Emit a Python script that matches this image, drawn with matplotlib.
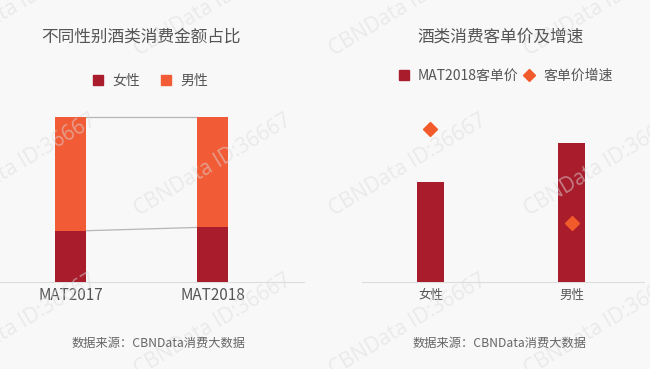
import matplotlib
matplotlib.use("Agg")
import matplotlib.pyplot as plt
from matplotlib.lines import Line2D

plt.rcParams['font.family'] = ['Noto Sans CJK SC', 'DejaVu Sans']

# ---- data ----
periods = ["MAT2017", "MAT2018"]
female_share = [0.31, 0.33]
male_share = [0.69, 0.67]

genders = ["女性", "男性"]
avg_price_2018 = [180, 250]
price_growth = [0.31, 0.12]

title_left = "不同性别酒类消费金额占比"
title_right = "酒类消费客单价及增速"
source_text = "数据来源：CBNData消费大数据"
watermark = "CBNData ID:36667"

# ---- style ----
BG = "#f8f8f8"
C_F = "#a91c2c"
C_M = "#f15b36"
C_D = "#f15a2b"
TXT = "#555555"

W, H = 650, 369
fig = plt.figure(figsize=(W / 100, H / 100), dpi=100, facecolor=BG)

def fx(px):
    return px / W

def fy(py):
    return 1 - py / H

# watermarks
for cy in (5, 165, 325):
    for cx in (18, 213, 408, 603):
        fig.text(fx(cx), fy(cy), watermark, rotation=31, ha="center", va="center",
                 fontsize=15, color="#dcdcdc", alpha=0.5, family=["Open Sans", "DejaVu Sans"],
                 zorder=0)

# ---- left chart ----
base = 281.7
axL = fig.add_axes([0, fy(base), fx(304), 172.6 / H])
axL.set_facecolor("none")
x = list(range(len(periods)))
bw = 0.218
axL.bar(x, female_share, width=bw, color=C_F, zorder=3)
axL.bar(x, male_share, width=bw, bottom=female_share, color=C_M, zorder=3)
tops = [f + m for f, m in zip(female_share, male_share)]
axL.plot([x[0] + bw / 2, x[1] - bw / 2], [tops[0], tops[1]], color="#b5b5b5", lw=0.9, zorder=2)
axL.plot([x[0] + bw / 2, x[1] - bw / 2], [female_share[0], female_share[1]], color="#b5b5b5", lw=0.9, zorder=2)
axL.set_xlim(-0.496, 1.644)
axL.set_ylim(0, 1.05)
axL.set_xticks(x)
axL.set_xticklabels(periods, fontsize=11, color=TXT)
axL.set_yticks([])
axL.tick_params(axis="x", length=0, pad=4)
for s in ("top", "right", "left"):
    axL.spines[s].set_visible(False)
axL.spines["bottom"].set_color("#dddddd")

fig.text(fx(141), fy(37), title_left, ha="center", va="center", fontsize=12, color=TXT)
hL = [Line2D([], [], marker="s", ls="", color=C_F, markersize=7),
      Line2D([], [], marker="s", ls="", color=C_M, markersize=7)]
fig.legend(hL, genders, loc="center", bbox_to_anchor=(fx(146), fy(81)), ncol=2, frameon=False,
           fontsize=10, handletextpad=0.0, columnspacing=0.9, labelcolor=TXT)
fig.text(fx(159), fy(343), source_text, ha="center", va="center", fontsize=8.8, color="#666666")

# ---- right chart ----
axR = fig.add_axes([fx(362), fy(base), fx(644 - 362), 180 / H])
axR.set_facecolor("none")
xr = list(range(len(genders)))
axR.bar(xr, avg_price_2018, width=0.195, color=C_F, zorder=3)
axR.set_xlim(-0.485, 1.512)
axR.set_ylim(0, 325)
axR.set_xticks(xr)
axR.set_xticklabels(genders, fontsize=9, color=TXT)
axR.set_yticks([])
axR.tick_params(axis="x", length=0, pad=5)
for s in ("top", "right", "left"):
    axR.spines[s].set_visible(False)
axR.spines["bottom"].set_color("#dddddd")

axR2 = axR.twinx()
axR2.plot(xr, price_growth, marker="D", ls="", color=C_D, markersize=7, zorder=4)
axR2.set_ylim(0, 0.366)
axR2.set_yticks([])
for s in ("top", "right", "left", "bottom"):
    axR2.spines[s].set_visible(False)

fig.text(fx(501), fy(37), title_right, ha="center", va="center", fontsize=12, color=TXT)
hR = [Line2D([], [], marker="s", ls="", color=C_F, markersize=7),
      Line2D([], [], marker="D", ls="", color=C_D, markersize=6)]
fig.legend(hR, ["MAT2018客单价", "客单价增速"], loc="center", bbox_to_anchor=(fx(501), fy(76)), ncol=2,
           frameon=False, fontsize=10, handletextpad=0.0, columnspacing=-0.2, labelcolor=TXT)
fig.text(fx(500), fy(343), source_text, ha="center", va="center", fontsize=8.8, color="#666666")

fig.savefig("out.png", dpi=100, facecolor=BG)
